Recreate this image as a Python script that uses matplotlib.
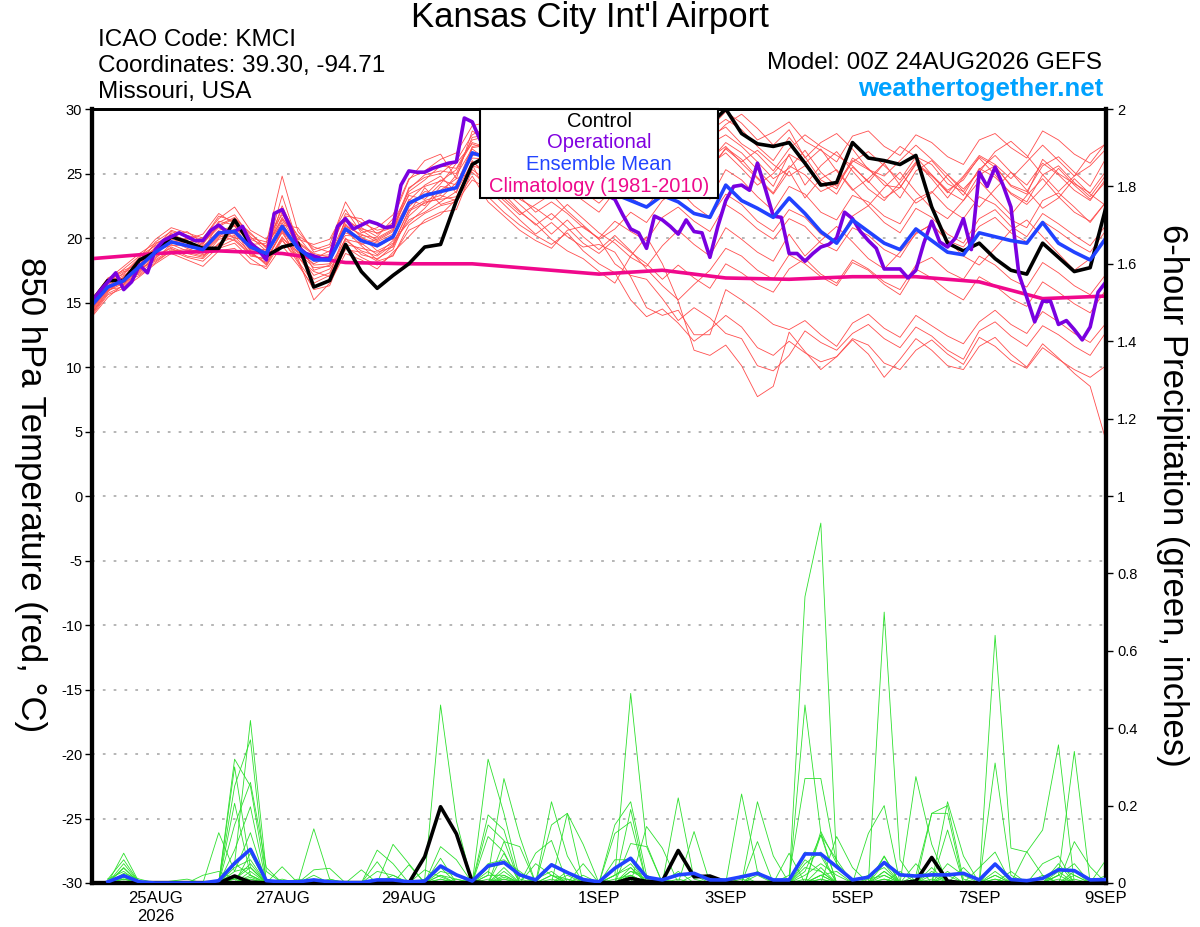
import numpy as np
import matplotlib
matplotlib.use('Agg')
import matplotlib.pyplot as plt
from matplotlib.patches import Rectangle

plt.rcParams['font.family'] = ['Liberation Sans', 'DejaVu Sans']

# ---------------- DATA ----------------
# x axis: 6-hourly steps from 00Z 24AUG2026 (index 0) to 00Z 9SEP2026 (index 64)
tick_index = [4, 12, 20, 32, 40, 48, 56, 64]
tick_labels = ['25AUG\n2026', '27AUG', '29AUG', '1SEP', '3SEP', '5SEP', '7SEP', '9SEP']

# 850 hPa temperature (deg C), 6-hourly
control_t = [15.1,16.7,16.7,18.3,18.9,20.1,19.7,19.2,19.2,21.4,19.5,18.6,19.3,19.6,16.2,16.7,19.5,17.4,16.1,17.1,
             18.0,19.3,19.5,22.9,25.7,26.4,26.8,27.3,27.0,26.5,26.8,27.4,27.8,27.2,26.6,26.2,26.9,27.5,27.1,28.8,
             30.0,28.1,27.3,27.1,27.4,25.8,24.1,24.3,27.4,26.2,26.0,25.7,26.4,22.4,19.6,19.0,19.6,18.4,17.5,17.2,
             19.6,18.5,17.4,17.7,22.4]
mean_t = [14.8,16.2,16.7,17.8,18.9,19.7,19.4,19.1,20.4,20.5,19.3,18.8,20.9,19.2,18.3,18.3,20.7,19.8,19.4,20.1,
          22.7,23.3,23.6,23.9,26.6,26.2,25.7,25.4,25.0,24.8,24.5,24.2,23.8,23.4,22.9,22.4,23.3,22.8,21.9,21.6,
          24.1,22.9,22.3,21.6,23.1,21.9,20.5,19.6,21.4,20.5,19.6,19.1,20.7,19.8,18.9,18.7,20.4,20.1,19.8,19.6,
          21.2,19.6,18.9,18.3,20.0]
# operational run, 3-hourly
oper_t = [15.1,15.9,16.6,17.3,16.0,16.6,17.9,17.3,19.1,19.8,20.1,20.4,20.1,19.8,19.8,20.6,21.0,20.5,20.5,20.9,
          19.6,19.1,18.3,21.9,22.2,20.9,19.3,18.8,18.6,18.4,18.4,20.9,21.5,20.7,21.0,21.3,21.1,20.8,20.9,24.1,
          25.2,25.1,25.1,25.4,25.6,25.8,25.9,29.3,29.0,27.6,26.5,26.0,25.5,25.8,26.2,25.6,25.0,24.6,25.0,25.4,
          24.8,24.2,24.5,24.0,23.6,23.3,23.0,21.8,20.7,20.4,19.2,21.7,21.4,20.9,20.3,21.4,20.5,20.4,18.5,20.9,
          22.9,24.0,24.1,23.7,25.8,23.8,21.7,21.6,18.8,18.8,18.2,18.8,19.3,19.5,20.0,22.0,21.5,20.5,19.8,19.2,
          17.6,17.6,17.6,16.9,17.5,19.6,21.3,19.7,19.3,20.0,21.5,19.1,25.1,24.0,25.5,24.1,22.4,17.2,15.4,13.5,
          15.1,15.1,13.3,13.6,12.9,12.1,13.1,15.8,16.6]
# climatology (1981-2010), daily
clim_t = [18.4,18.8,19.0,18.8,18.1,18.0,18.0,17.6,17.2,17.5,16.9,16.8,17.0,17.0,16.6,15.3,15.5]

# ensemble members, 850 hPa temperature, 6-hourly
mem01 = [14.2,15.8,17.0,18.3,19.5,20.3,19.8,19.0,21.2,21.8,20.1,19.0,22.5,19.8,17.5,17.9,21.5,20.6,19.8,20.5,23.8,24.9,25.2,25.0,27.8,
         28.0,27.2,26.5,25.8,26.9,27.8,26.4,25.1,26.0,27.3,26.2,27.9,28.6,27.0,28.3,29.2,28.4,27.1,26.0,27.8,26.3,24.5,23.8,26.2,25.4,24.1,23.9,25.7,24.8,23.6,22.9,24.9,25.6,24.0,23.4,26.1,25.0,24.2,23.5,25.2]
mem02 = [15.3,16.9,17.5,18.0,18.6,19.2,18.6,18.4,19.6,20.1,18.9,18.0,20.1,18.5,17.4,17.0,19.8,19.0,18.6,19.5,21.4,22.0,22.8,23.6,25.9,
         25.0,24.1,23.2,22.0,22.8,21.9,20.8,20.0,21.3,20.5,19.8,21.6,22.4,21.3,20.5,22.6,21.8,20.7,19.9,21.5,20.9,19.6,19.0,20.8,20.2,19.1,18.5,20.4,21.0,19.8,19.3,20.9,21.6,20.4,19.7,21.3,20.5,19.6,18.9,20.6]
mem03 = [14.6,16.0,16.2,17.4,19.2,20.6,20.2,19.9,21.7,21.3,19.5,19.6,24.8,20.5,19.1,19.5,22.8,20.8,20.1,21.5,24.5,26.0,26.5,24.6,28.3,
         27.5,26.0,24.8,25.5,26.7,25.9,24.6,23.9,25.2,24.7,23.5,25.8,26.9,25.4,27.6,28.8,29.6,28.5,27.2,28.4,26.2,27.4,28.1,26.9,25.3,24.8,26.0,27.2,26.1,24.9,23.8,25.1,26.7,27.5,26.4,24.9,23.6,24.8,26.5,27.3]
mem04 = [13.9,15.4,16.4,17.6,18.2,19.0,19.1,18.7,19.2,19.6,18.4,17.6,19.4,17.9,16.2,16.8,19.1,18.9,18.2,18.6,21.0,21.9,22.5,22.8,24.5,
         23.8,22.6,21.4,20.3,21.2,20.1,19.3,19.5,18.9,17.0,14.6,14.0,14.4,12.5,12.5,16.0,15.2,14.3,13.3,12.9,13.6,12.5,11.6,13.4,14.1,13.0,12.3,14.0,13.2,12.4,11.8,13.5,14.4,13.3,12.6,14.3,13.5,12.6,11.9,13.4]
mem05 = [15.0,16.4,17.3,18.5,19.9,20.8,20.4,20.0,21.5,22.4,20.6,19.9,21.8,20.2,19.3,18.9,21.9,21.2,20.6,20.9,23.3,23.0,24.2,25.8,27.3,
         26.8,25.4,24.1,23.2,24.6,23.8,22.9,22.0,23.6,24.5,23.1,25.0,26.3,24.8,26.0,27.4,26.6,25.3,24.0,26.5,25.8,26.9,25.2,23.7,24.6,25.8,24.1,22.7,23.5,24.9,23.6,22.4,23.8,25.1,23.7,22.3,23.1,24.6,23.4,22.5]
mem06 = [14.5,16.6,16.9,17.2,18.4,19.5,19.0,19.6,20.8,20.0,19.8,18.5,21.2,19.0,18.0,18.6,20.2,20.1,19.0,19.6,22.1,22.7,23.1,24.3,26.2,
         26.1,25.0,23.8,24.6,23.7,24.9,23.6,22.7,23.9,23.1,22.4,24.0,25.2,24.1,23.0,25.3,24.5,23.2,22.1,24.0,23.4,22.0,21.4,23.3,22.8,21.7,21.1,23.0,23.6,22.3,21.5,23.2,22.6,21.4,20.8,22.9,23.5,22.4,21.2,22.8]
mem07 = [14.9,15.9,16.5,18.1,19.0,19.9,19.6,18.9,20.1,21.0,19.0,18.9,23.3,19.6,18.7,18.2,21.1,19.5,19.9,20.6,22.9,24.1,24.8,23.5,27.0,
         27.2,28.1,27.4,26.3,27.5,26.8,27.9,26.2,25.1,26.4,27.6,28.3,27.0,26.1,27.9,28.6,27.3,26.5,25.2,26.9,28.0,27.1,26.4,25.6,24.3,25.8,27.1,26.3,24.9,23.5,24.8,26.4,25.7,24.6,25.9,27.2,26.0,24.8,25.6,26.9]
mem08 = [14.0,15.6,16.1,17.0,18.0,18.8,18.3,17.8,19.0,19.2,18.0,17.8,19.8,18.4,15.2,16.5,18.8,18.3,17.6,18.9,20.1,21.4,22.0,22.2,25.3,
         24.4,23.1,22.0,21.1,19.9,19.0,18.4,17.4,16.5,18.6,20.1,18.0,15.1,11.3,10.9,11.7,10.1,7.7,8.5,12.7,11.2,9.8,10.8,12.1,11.0,9.2,10.6,12.2,11.3,10.1,9.8,11.6,12.3,11.0,10.0,11.8,10.7,9.5,8.5,4.3]
mem09 = [15.2,16.8,17.8,18.8,19.6,20.1,20.5,19.6,21.0,21.6,20.3,19.3,21.5,19.9,19.5,19.9,22.2,20.4,20.8,21.8,24.6,25.2,26.1,26.6,28.7,
         29.0,28.2,27.0,26.1,25.3,26.5,25.0,24.2,25.6,26.8,25.9,27.2,28.0,29.1,28.5,29.8,28.9,27.6,28.2,29.0,27.5,26.8,25.9,27.9,28.3,27.1,26.4,28.0,27.4,26.3,25.7,27.6,28.1,27.0,26.2,28.3,27.6,26.5,25.8,27.4]
mem10 = [14.4,16.1,16.6,17.7,18.7,20.4,19.3,19.3,20.6,20.9,19.7,18.2,20.5,19.3,18.4,19.0,20.4,19.9,19.3,20.0,22.4,23.6,23.4,24.9,26.9,
         26.0,24.8,23.0,22.3,21.4,22.6,21.5,20.4,19.6,18.5,17.8,19.4,20.6,19.5,18.6,20.8,19.9,18.9,18.2,20.3,18.6,19.8,20.9,19.7,18.4,17.6,18.9,20.3,21.1,19.8,18.6,17.9,19.2,20.6,21.4,20.1,18.8,17.5,18.4,19.9]
mem11 = [14.7,16.3,17.1,17.9,19.3,19.6,20.0,19.4,20.3,20.4,19.1,19.1,22.0,19.1,17.9,18.0,21.4,20.0,19.6,19.9,23.0,22.5,24.0,23.8,26.4,
         26.5,27.4,25.9,24.8,26.0,24.7,23.6,24.5,25.8,24.6,25.5,26.9,27.8,26.5,25.7,26.6,25.4,24.1,25.0,26.4,24.1,25.6,26.7,25.2,23.8,22.9,24.3,25.9,24.6,23.1,24.7,26.2,24.9,23.4,22.6,23.9,25.4,24.1,23.0,24.4]
mem12 = [14.1,15.7,16.3,17.5,18.5,19.3,18.8,18.5,19.9,20.2,19.3,18.6,20.7,18.8,17.1,17.6,19.5,19.2,18.9,19.3,21.7,22.8,23.0,23.2,25.6,
         25.2,23.7,22.6,21.5,20.3,21.4,20.1,19.1,20.2,19.0,17.6,16.3,15.2,16.4,17.5,19.2,18.6,17.5,16.8,18.7,18.0,17.0,16.3,18.1,17.5,16.4,15.6,17.6,16.9,15.9,15.2,17.0,16.3,15.3,14.7,16.6,15.8,14.9,14.2,16.0]
mem13 = [15.4,16.5,17.6,18.6,19.4,20.0,19.9,20.3,21.9,21.1,20.0,19.7,21.0,20.8,18.9,19.3,21.7,21.5,20.3,21.2,23.6,24.5,25.6,25.4,27.6,
         27.9,26.8,25.6,24.5,25.8,27.0,25.7,24.9,26.3,25.4,24.3,26.1,27.3,26.4,25.2,27.0,26.1,24.7,23.5,25.6,24.9,23.6,24.2,26.0,25.3,24.4,23.1,25.2,26.0,24.6,23.3,25.4,24.7,23.5,22.8,24.9,25.6,24.3,23.2,24.9]
mem14 = [14.3,16.0,16.8,17.3,18.8,19.8,19.2,18.8,20.0,20.7,18.6,18.4,20.4,18.6,16.8,17.3,20.0,18.7,18.4,19.1,21.9,23.9,22.6,23.0,26.0,
         24.6,23.4,22.1,21.0,21.9,20.8,19.6,18.8,19.9,18.9,18.0,16.8,17.9,16.9,16.1,18.0,17.3,16.4,15.8,17.6,18.4,17.2,16.5,18.3,17.6,16.6,16.0,17.9,18.5,17.4,16.8,18.6,17.9,16.8,16.2,18.1,17.3,16.3,15.6,17.2]
mem15 = [14.8,16.2,16.9,18.2,19.1,19.4,19.5,19.2,20.5,20.3,19.6,18.9,21.4,19.4,18.2,18.4,20.9,20.3,19.7,20.3,22.6,23.3,24.5,24.1,27.1,
         27.3,26.3,25.2,26.0,27.1,26.0,24.9,23.8,24.7,26.1,25.3,26.6,27.5,26.8,25.5,26.9,25.9,26.8,25.7,24.8,25.6,24.3,23.4,25.5,24.4,23.1,23.9,25.8,24.9,23.7,24.5,26.3,25.5,24.1,23.6,25.6,26.3,25.1,24.0,26.2]
mem16 = [14.6,16.7,17.4,17.6,18.3,19.1,18.9,18.6,19.5,20.6,19.0,17.9,20.0,18.9,17.7,17.8,19.9,19.6,18.7,19.8,21.2,22.3,23.7,24.6,25.1,
         24.0,22.9,21.8,22.6,23.4,22.1,21.0,19.9,20.7,22.0,21.2,22.9,23.8,22.5,21.6,23.4,22.6,21.3,20.5,22.2,21.6,20.3,19.6,21.7,22.5,21.2,20.4,22.3,21.6,20.3,19.6,21.5,22.2,20.9,20.1,21.9,21.1,20.2,19.4,21.0]
mem17 = [15.1,16.3,16.4,17.9,19.7,20.5,20.1,19.5,21.3,21.0,19.9,19.4,22.3,20.1,18.6,18.7,21.3,20.7,20.4,20.8,23.9,24.7,25.0,26.0,28.0,
         28.6,27.7,26.2,27.3,28.4,27.2,26.0,25.3,24.4,25.9,24.8,26.5,27.7,28.5,27.3,28.0,27.1,25.9,24.6,25.4,26.8,25.1,24.0,25.9,26.7,25.6,24.5,26.3,25.7,24.2,23.6,25.3,26.4,25.1,24.1,25.8,24.9,23.7,22.9,24.6]
mem18 = [14.2,15.9,16.7,17.8,18.9,19.7,19.4,19.0,20.2,19.8,18.7,18.3,20.6,18.2,16.5,17.1,20.6,19.4,18.3,19.4,22.2,22.9,23.3,22.9,25.7,
         23.2,22.0,21.0,20.2,19.5,20.4,19.0,18.0,17.3,15.2,13.9,14.5,13.4,12.0,12.9,14.0,13.1,11.5,10.9,12.0,11.1,10.4,10.8,12.2,11.7,10.3,9.8,11.3,12.1,11.0,10.2,12.3,11.6,10.5,9.9,11.5,10.6,9.8,9.2,10.1]
mem19 = [14.9,16.6,17.2,18.4,19.2,20.2,19.7,19.8,20.9,21.5,20.4,19.2,21.6,19.7,18.8,18.5,21.0,20.2,20.0,20.7,23.4,24.0,24.4,25.3,27.4,
         27.0,25.9,24.7,25.6,24.5,25.7,26.6,25.5,24.1,25.2,26.4,27.5,26.1,24.9,26.2,27.1,25.8,24.6,23.4,25.2,23.1,24.6,25.3,23.8,22.5,23.9,25.1,23.6,22.3,21.5,22.9,24.4,23.1,21.8,23.3,24.6,23.2,22.0,21.3,22.8]
mem20 = [14.5,16.1,16.6,17.1,18.1,19.0,18.5,18.2,19.3,19.9,18.8,18.1,19.9,18.1,16.0,16.3,19.3,18.5,17.9,18.7,20.6,21.2,21.8,23.0,24.8,
         22.8,21.7,20.6,19.8,19.2,20.6,20.9,19.9,18.0,17.1,16.8,15.3,13.6,14.6,13.8,12.6,12.2,10.1,9.7,10.9,12.8,11.9,11.3,12.6,13.3,12.2,11.5,13.1,12.4,11.3,10.6,12.8,13.5,12.4,11.6,13.2,12.5,11.6,10.9,12.7]
temp_members = [mem01, mem02, mem03, mem04, mem05, mem06, mem07, mem08, mem09, mem10,
                mem11, mem12, mem13, mem14, mem15, mem16, mem17, mem18, mem19, mem20]

# 6-hour precipitation (inches), values for steps 1..64
control_p = [0,0,0,0,0,0,0,0, 0.018,0.002,0,0,0,0,0,0, 0,0,0,0,0.068,0.197,0.127,0.003,
             0,0,0,0,0,0,0,0.002, 0,0.012,0.004,0.005,0.084,0.016,0.018,0.003, 0,0,0,0,0,0,0,0,
             0,0,0,0.005,0.066,0.005,0,0, 0,0,0,0,0,0,0,0]
mean_p = [0.003,0.019,0.003,0,0,0,0,0.006, 0.051,0.087,0.006,0.003,0.003,0.008,0.003,0.001,
          0.001,0.008,0.008,0.003,0.005,0.044,0.021,0.005, 0.044,0.053,0.021,0.008,0.047,0.027,0.009,0.003,
          0.038,0.064,0.015,0.008,0.021,0.025,0.008,0.008, 0.016,0.025,0.008,0.008,0.075,0.075,0.042,0.008,
          0.015,0.053,0.021,0.018,0.021,0.021,0.025,0.008, 0.049,0.009,0.006,0.012,0.034,0.032,0.008,0.009]

pm01 = [0.01,0.06,0,0,0,0,0,0, 0.32,0.25,0.01,0,0,0,0,0, 0,0,0,0,0,0.02,0,0, 0.32,0.18,0.01,0,0,0,0,0,
        0,0.02,0,0,0,0,0,0, 0,0,0,0,0.74,0.93,0.05,0, 0,0.07,0,0,0,0,0,0, 0.05,0,0,0,0.02,0.05,0,0]
pm02 = [0,0.04,0,0,0,0,0,0, 0.05,0.42,0.03,0,0,0,0,0, 0,0,0,0,0.01,0.46,0.16,0, 0,0,0,0,0.21,0.07,0,0,
        0.02,0.49,0.1,0,0,0,0,0, 0,0,0,0.02,0.27,0.27,0.05,0, 0,0.7,0.06,0,0,0,0,0, 0.31,0.02,0,0,0.02,0.34,0,0]
pm03 = [0.01,0.03,0,0,0,0,0,0, 0.25,0.37,0,0,0,0.14,0.01,0, 0,0,0,0,0,0,0,0, 0.02,0.27,0.12,0,0,0,0,0,
        0.15,0.21,0.02,0,0.22,0.01,0,0, 0,0,0,0,0.46,0.13,0,0, 0,0,0,0,0.18,0.2,0.01,0, 0.64,0.09,0.08,0.137,0.357,0,0,0.06]
pm04 = [0,0.077,0,0,0,0,0,0.13, 0.03,0.13,0,0,0,0,0,0, 0,0,0.1,0.05,0,0,0,0, 0.15,0.11,0,0,0.15,0.18,0,0,
        0,0.19,0,0,0,0,0,0, 0.23,0.03,0,0,0,0,0.12,0.04, 0,0,0,0.275,0.1,0,0,0, 0,0,0,0.05,0.07,0,0,0]
pm05 = [0,0.02,0,0,0,0,0,0, 0.15,0.26,0.04,0,0,0,0,0, 0,0.085,0.05,0,0,0.094,0.06,0, 0.12,0.08,0,0,0,0.18,0.1,0,
        0.128,0.158,0,0,0,0,0,0, 0,0.21,0.07,0,0,0.124,0,0, 0.128,0.2,0,0,0,0.21,0.07,0, 0,0,0,0,0,0,0,0]
pm06 = [0,0.05,0,0,0,0,0,0, 0.085,0.197,0,0.042,0,0,0,0, 0,0.055,0,0,0,0.064,0,0, 0.176,0.137,0,0.077,0.11,0,0,0,
        0,0,0.146,0.09,0,0,0,0, 0,0.107,0,0.077,0,0,0,0, 0,0.068,0,0,0,0.137,0,0, 0,0,0.081,0.02,0,0,0,0]
pm07 = [0,0.038,0,0,0,0,0,0, 0,0.077,0,0,0,0.034,0.038,0, 0,0,0,0,0.034,0.016,0,0, 0,0.107,0.094,0,0,0,0.05,0,
        0,0.102,0.094,0,0,0.133,0,0, 0,0,0,0,0,0.133,0.05,0, 0,0,0,0.02,0.18,0.18,0,0, 0,0,0,0,0,0.107,0.042,0]
pm08 = [0.005,0.015,0,0,0,0,0,0, 0.05,0.02,0,0,0,0,0,0, 0.034,0,0,0.047,0,0,0,0, 0,0.077,0,0.05,0.02,0,0,0,
        0.06,0.06,0,0,0,0,0,0, 0.02,0,0,0,0.03,0.124,0.06,0, 0,0.03,0,0,0,0,0,0, 0.02,0,0,0,0.02,0,0,0.02]
pm09 = [0,0,0,0,0,0,0.02,0.03, 0.01,0.05,0,0.01,0,0,0,0, 0,0,0,0,0,0,0.01,0, 0.04,0.05,0.02,0,0,0.03,0,0,
        0,0.04,0,0,0,0.02,0,0, 0,0,0,0,0.05,0.08,0,0, 0,0.02,0,0.05,0,0,0.04,0, 0,0.03,0,0,0,0.03,0,0]
pm10 = [0,0.025,0.01,0,0.005,0.01,0,0, 0.03,0.04,0,0,0,0.02,0,0, 0,0,0.02,0,0,0.03,0.02,0, 0,0.04,0,0,0.05,0.03,0,0,
        0.02,0.05,0,0,0.03,0,0,0, 0,0.02,0,0,0.08,0.07,0,0, 0.02,0.04,0,0,0.03,0,0,0.04, 0.08,0,0,0,0.04,0.02,0,0]
pm11 = [0,0.01,0,0,0,0,0,0, 0.206,0.02,0,0,0,0,0,0, 0,0.03,0.02,0,0,0,0,0, 0.03,0,0,0,0.02,0,0,0,
        0,0.03,0.02,0,0.01,0,0,0, 0,0,0,0,0,0.04,0,0, 0,0.05,0,0,0.02,0,0,0, 0.03,0,0,0,0.05,0,0,0]
pm12 = [0,0.02,0,0,0,0,0,0, 0.3,0.04,0,0,0,0,0,0, 0,0,0,0,0,0.04,0,0.01, 0,0.03,0,0,0,0.02,0,0,
        0.01,0.02,0,0,0,0,0,0, 0,0.03,0,0,0.02,0.05,0.02,0, 0,0,0.03,0,0,0.05,0.02,0, 0,0,0,0.02,0,0,0,0.01]
pm13 = [0.01,0.01,0,0,0,0,0,0, 0,0.03,0,0,0.01,0,0,0, 0,0,0,0,0,0.01,0,0, 0.02,0.02,0,0.01,0.03,0,0,0,
        0,0.01,0,0,0,0,0,0, 0.01,0,0,0,0.04,0.03,0,0, 0,0.03,0,0.01,0,0.03,0,0, 0.02,0,0,0,0,0.01,0,0]
pm14 = [0,0.005,0,0,0,0,0,0, 0.01,0.04,0,0,0,0.01,0,0, 0,0,0,0,0,0,0,0, 0.05,0.06,0.03,0,0,0,0.02,0,
        0,0.03,0.01,0,0,0,0,0, 0,0,0,0,0,0.02,0.03,0, 0,0.01,0,0,0.04,0,0,0, 0.05,0.01,0,0,0.03,0,0,0]
pm15 = [0,0.01,0.005,0,0,0,0,0, 0.04,0.06,0,0,0,0,0.01,0, 0,0,0,0,0,0.02,0.01,0, 0,0.01,0,0,0.02,0.01,0,0,
        0.02,0.04,0,0.01,0,0,0,0, 0,0,0,0,0.06,0.03,0,0, 0.01,0.02,0,0,0,0.02,0,0, 0.01,0,0,0,0,0.02,0,0]
pm16 = [0,0,0,0,0,0,0,0, 0,0.01,0,0,0,0,0,0, 0,0,0,0,0,0,0,0, 0,0.02,0,0,0,0,0,0,
        0,0.01,0,0,0,0,0,0, 0,0,0,0,0,0.01,0,0, 0,0.01,0,0,0,0,0,0, 0,0,0,0,0,0,0,0]
pm17 = [0,0.02,0,0,0,0,0,0, 0,0.015,0,0,0,0,0,0, 0,0,0,0,0,0,0,0, 0.01,0,0,0,0.01,0,0,0,
        0,0.02,0,0,0,0,0,0, 0,0,0,0,0,0.02,0,0, 0,0,0,0,0,0,0,0, 0.01,0,0,0,0,0,0,0]
pm18 = [0,0,0,0,0,0,0,0, 0.01,0,0,0,0,0,0,0, 0,0,0,0,0,0.01,0,0, 0,0.01,0,0,0,0.01,0,0,
        0,0,0,0,0,0,0,0, 0,0,0,0,0.01,0,0,0, 0,0,0,0,0.01,0,0,0, 0,0,0,0,0,0,0,0]
pm19 = [0,0.015,0,0,0,0,0,0, 0,0.02,0,0,0,0,0,0, 0,0,0,0,0,0,0,0, 0,0.015,0,0,0,0,0,0,
        0,0.015,0,0,0,0,0,0, 0,0,0,0,0,0.02,0,0, 0,0,0,0,0,0,0,0, 0,0,0,0,0.01,0,0,0]
pm20 = [0,0,0,0,0,0,0,0, 0,0.01,0,0,0,0,0,0, 0,0,0,0,0,0,0,0, 0,0,0,0,0,0,0,0,
        0,0,0,0,0,0,0,0, 0,0,0,0,0,0.01,0,0, 0,0,0,0,0,0,0,0, 0,0,0,0,0,0,0,0]
precip_members = [pm01, pm02, pm03, pm04, pm05, pm06, pm07, pm08, pm09, pm10,
                  pm11, pm12, pm13, pm14, pm15, pm16, pm17, pm18, pm19, pm20]

legend_items = ['Control', 'Operational', 'Ensemble Mean', 'Climatology (1981-2010)']

# ---------------- STYLE ----------------
C_MEMBER = '#ff4d4d'
C_PRECIP = '#2ee02e'
C_CONTROL = 'black'
C_OPER = '#7a00e0'
C_MEAN = '#2142ff'
C_CLIM = '#f0088c'

W, H = 1200, 927
fig = plt.figure(figsize=(W / 100, H / 100), dpi=100)
L, R, T, B = 92, 1106, 109, 883
ax1 = fig.add_axes([L / W, 1 - B / H, (R - L) / W, (B - T) / H])
ax2 = ax1.twinx()

# temperature
for m in temp_members:
    ax1.plot(np.arange(len(m)), m, color=C_MEMBER, lw=0.6, zorder=2)
ax1.plot(np.arange(len(clim_t)) * 4, clim_t, color=C_CLIM, lw=2.6, zorder=3)
ax1.plot(np.arange(len(control_t)), control_t, color=C_CONTROL, lw=2.6, zorder=4)
ax1.plot(np.arange(len(oper_t)) * 0.5, oper_t, color=C_OPER, lw=2.6, zorder=5)
ax1.plot(np.arange(len(mean_t)), mean_t, color=C_MEAN, lw=2.6, zorder=6)

# precipitation
for p in precip_members:
    ax2.plot(np.arange(1, len(p) + 1), p, color=C_PRECIP, lw=0.6, zorder=2)
ax2.plot(np.arange(1, len(control_p) + 1), control_p, color=C_CONTROL, lw=2.6, zorder=4)
ax2.plot(np.arange(1, len(mean_p) + 1), mean_p, color=C_MEAN, lw=2.6, zorder=5)

ax1.set_xlim(0, 64)
ax1.set_ylim(-30, 30)
ax2.set_ylim(0, 2)

ax1.set_yticks(np.arange(-30, 31, 5))
ax1.set_yticklabels([str(v) for v in range(-30, 31, 5)])
ax2.set_yticks(np.arange(0, 2.01, 0.2))
ax2.set_yticklabels(['0', '0.2', '0.4', '0.6', '0.8', '1', '1.2', '1.4', '1.6', '1.8', '2'])
ax1.set_xticks(tick_index)
ax1.set_xticklabels(tick_labels)

ax1.tick_params(axis='y', direction='out', length=5, width=1, labelsize=10.5, pad=2)
ax2.tick_params(axis='y', direction='out', length=5, width=1, labelsize=10.5, pad=3)
ax1.tick_params(axis='x', direction='out', length=0, labelsize=12, pad=6)

ax1.yaxis.grid(True, color='#b0b0b0', linestyle=(0, (1.5, 4.5)), linewidth=1.3)
ax1.set_axisbelow(True)

for ax in (ax1, ax2):
    ax.spines['left'].set_linewidth(3)
    ax.spines['right'].set_linewidth(3)
    ax.spines['bottom'].set_linewidth(3)
    ax.spines['top'].set_linewidth(2)

# legend box
bx0, bx1 = (480 - L) / (R - L), (718 - L) / (R - L)
by0 = 1 - (198 - T) / (B - T)
ax2.add_patch(Rectangle((bx0, by0), bx1 - bx0, 1 - by0, transform=ax2.transAxes,
                        facecolor='white', edgecolor='black', lw=1.5, zorder=20, clip_on=False))
for txt, col, py in zip(legend_items, [C_CONTROL, '#8000e0', '#2244ff', '#ee0a8c'], [121, 142, 164, 186]):
    ax2.text(0.5, 1 - (py - T) / (B - T), txt, color=col, fontsize=14.5, ha='center', va='center',
             transform=ax2.transAxes, zorder=21)

# headers
fig.text(590 / W, 1 - 18 / H, "Kansas City Int'l Airport", fontsize=25, ha='center', va='center')
fig.text(98 / W, 1 - 40 / H, 'ICAO Code: KMCI', fontsize=17.5, ha='left', va='center')
fig.text(98 / W, 1 - 66 / H, 'Coordinates: 39.30, -94.71', fontsize=17.5, ha='left', va='center')
fig.text(98 / W, 1 - 92 / H, 'Missouri, USA', fontsize=17.5, ha='left', va='center')
fig.text(1102 / W, 1 - 63 / H, 'Model: 00Z 24AUG2026 GEFS', fontsize=17.5, ha='right', va='center')
fig.text(1103 / W, 1 - 89 / H, 'weathertogether.net', fontsize=18.5, fontweight='bold',
         color='#00a2ff', ha='right', va='center')

fig.text(30 / W, 1 - 495 / H, '850 hPa Temperature (red, °C)', fontsize=25, rotation=270,
         ha='center', va='center')
fig.text(1172 / W, 1 - 495 / H, '6-hour Precipitation (green, inches)', fontsize=25, rotation=270,
         ha='center', va='center')

fig.savefig('out.png', dpi=100)
